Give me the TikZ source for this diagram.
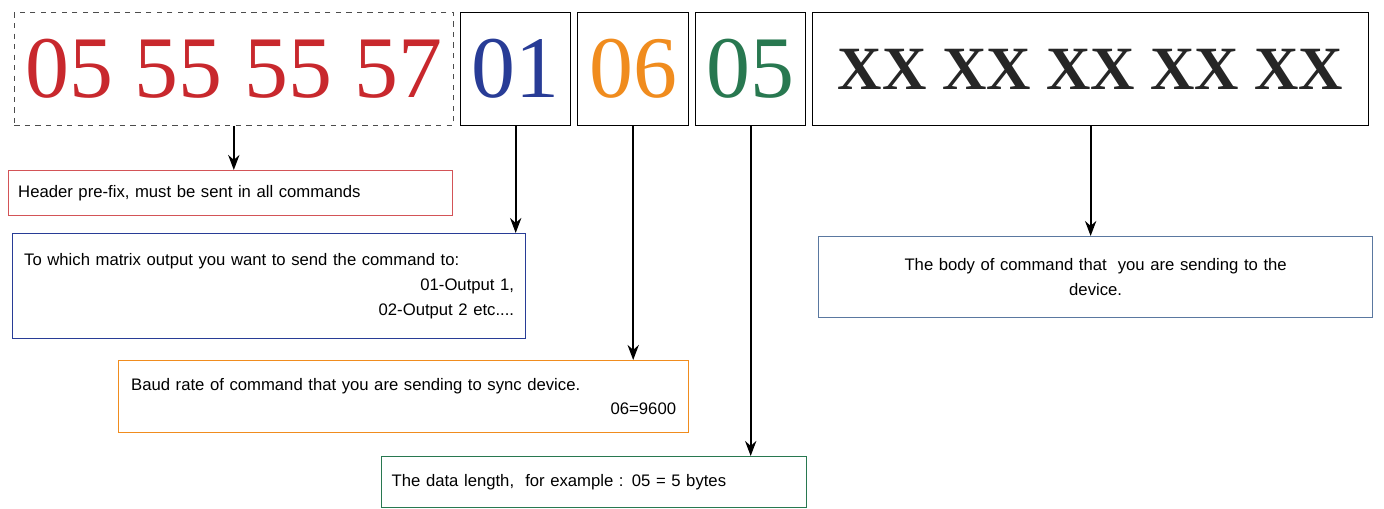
\documentclass[tikz,border=0pt]{standalone}
\usepackage{fontspec}
\setmainfont{Liberation Sans}
\newfontfamily\numfont{Liberation Serif}
\usetikzlibrary{arrows.meta, positioning}
\definecolor{hdrred}{RGB}{200,40,45}
\definecolor{outblue}{RGB}{40,60,150}
\definecolor{baudorange}{RGB}{240,140,30}
\definecolor{lengreen}{RGB}{40,120,80}
\definecolor{bodyblue}{RGB}{90,120,160}
\begin{document}
\begin{tikzpicture}[
    x=0.02cm, y=-0.02cm,
    byte/.style={rectangle, draw, thick, anchor=north west, minimum height=2.26cm, inner sep=0pt, font=\numfont\fontsize{50}{50}\selectfont},
    note/.style={rectangle, draw, thick, anchor=north west, inner sep=0pt, font=\fontsize{9.5}{14}\selectfont},
    arrow/.style={-{Stealth[length=3mm]}, line width=1.1pt}
]
\useasboundingbox (0,0) rectangle (1384,509);

% Top row of bytes
\node[byte, dashed, draw=black!70, thin, minimum width=8.78cm, text=hdrred] (hdr) at (14,12) {05 55 55 57};
\node[byte, minimum width=2.2cm, text=outblue] (out) at (460,12) {01};
\node[byte, minimum width=2.22cm, text=baudorange] (baud) at (577,12) {06};
\node[byte, minimum width=2.2cm, text=lengreen] (len) at (695,12) {05};
\node[byte, minimum width=11.12cm, font=\numfont\bfseries\fontsize{35}{35}\selectfont, text=black!85] (body) at (812,12) {XX XX XX XX XX};

% Notes
\node[note, draw=hdrred!80, minimum width=8.88cm, minimum height=0.9cm, text width=8.5cm, align=left] (hdrnote) at (8,170)
  {Header pre-fix, must be sent in all commands};
\node[note, draw=outblue, minimum width=10.26cm, minimum height=2.1cm, text width=9.8cm, align=left] (outnote) at (12,233)
  {To which matrix output you want to send the command to:\\\hspace*{\fill}01-Output 1,\\\hspace*{\fill}02-Output 2 etc....};
\node[note, draw=baudorange, minimum width=11.4cm, minimum height=1.44cm, text width=10.9cm, align=left] (baudnote) at (118,360)
  {Baud rate of command that you are sending to sync device.\\\hspace*{\fill}06=9600};
\node[note, draw=lengreen, minimum width=8.5cm, minimum height=1.02cm, text width=8.1cm, align=left] (lennote) at (381,456)
  {The data length,\ \ for example : 05 = 5 bytes};
\node[note, draw=bodyblue, minimum width=11.08cm, minimum height=1.62cm, text width=10.2cm, align=center] (bodynote) at (818,236)
  {The body of command that\ \ you are sending to the\\device.};

% Arrows
\draw[arrow] (hdr.south) -- (hdr.south |- hdrnote.north);
\draw[arrow] (out.south) -- (out.south |- outnote.north);
\draw[arrow] (baud.south) -- (baud.south |- baudnote.north);
\draw[arrow] (len.south) -- (len.south |- lennote.north);
\draw[arrow] (body.south) -- (body.south |- bodynote.north);

\end{tikzpicture}
\end{document}
